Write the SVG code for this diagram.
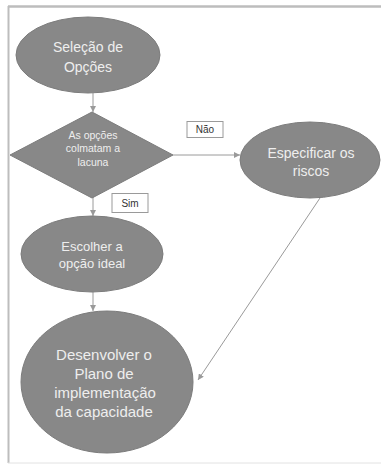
<svg xmlns="http://www.w3.org/2000/svg" width="381" height="464" viewBox="0 0 381 464">
  <style>
    .node { fill: #888888; stroke: #7c7c7c; stroke-width: 1; }
    .lbl { font-family: "Liberation Sans", Arial, sans-serif; fill: #eeeeee; text-anchor: middle; }
    .tag { fill: #ffffff; stroke: #9a9a9a; stroke-width: 1; }
    .tagtxt { font-family: "Liberation Sans", Arial, sans-serif; font-size: 10px; fill: #333333; text-anchor: middle; }
    .edge { stroke: #9a9a9a; stroke-width: 1; fill: none; marker-end: url(#arrow); }
  </style>
  <defs>
    <marker id="arrow" viewBox="0 0 6 6" refX="6" refY="3" markerWidth="6" markerHeight="6" orient="auto" markerUnits="userSpaceOnUse">
      <path d="M0,0 L6,3 L0,6 Z" fill="#9a9a9a"/>
    </marker>
  </defs>

  <!-- page frame -->
  <rect x="0" y="0" width="381" height="464" fill="#ffffff"/>
  <line x1="8" y1="6.5" x2="381" y2="6.5" stroke="#bdbdbd" stroke-width="2.5"/>
  <line x1="8.5" y1="6" x2="8.5" y2="463" stroke="#bdbdbd" stroke-width="2"/>
  <line x1="8" y1="463" x2="381" y2="463" stroke="#e2e2e2" stroke-width="1"/>

  <!-- connectors -->
  <g id="connectors">
    <line class="edge" x1="93" y1="93" x2="93" y2="112"/>
    <line class="edge" x1="173" y1="155" x2="240" y2="155"/>
    <line class="edge" x1="93" y1="197" x2="93" y2="216"/>
    <line class="edge" x1="93" y1="292" x2="93" y2="311"/>
    <line class="edge" x1="320" y1="198" x2="198" y2="380"/>
  </g>

  <g id="selecao">
    <ellipse class="node" cx="88" cy="55" rx="72" ry="38"/>
    <text class="lbl" font-size="14" x="88" y="52">Seleção de</text>
    <text class="lbl" font-size="14" x="88" y="72">Opções</text>
  </g>

  <g id="decisao">
    <polygon class="node" points="92,112 173,155 92,198 10,155"/>
    <text class="lbl" font-size="10.5" x="93" y="139">As opções</text>
    <text class="lbl" font-size="10.5" x="93" y="152">colmatam a</text>
    <text class="lbl" font-size="10.5" x="93" y="166">lacuna</text>
  </g>

  <g id="nao">
    <rect class="tag" x="187" y="121.5" width="36" height="16"/>
    <text class="tagtxt" x="205" y="133">Não</text>
  </g>

  <g id="sim">
    <rect class="tag" x="112" y="193.5" width="36" height="19"/>
    <text class="tagtxt" x="130" y="207">Sim</text>
  </g>

  <g id="especificar">
    <ellipse class="node" cx="310" cy="160" rx="70" ry="38"/>
    <text class="lbl" font-size="14" x="311" y="158">Especificar os</text>
    <text class="lbl" font-size="14" x="311" y="176">riscos</text>
  </g>

  <g id="escolher">
    <ellipse class="node" cx="92" cy="254" rx="71" ry="38"/>
    <text class="lbl" font-size="13" x="92" y="251">Escolher a</text>
    <text class="lbl" font-size="13" x="92" y="268">opção ideal</text>
  </g>

  <g id="desenvolver">
    <ellipse class="node" cx="107" cy="382" rx="86" ry="71"/>
    <text class="lbl" font-size="15" x="104" y="360">Desenvolver o</text>
    <text class="lbl" font-size="15" x="104" y="379">Plano de</text>
    <text class="lbl" font-size="15" x="105" y="398">implementação</text>
    <text class="lbl" font-size="15" x="104" y="417">da capacidade</text>
  </g>
</svg>
